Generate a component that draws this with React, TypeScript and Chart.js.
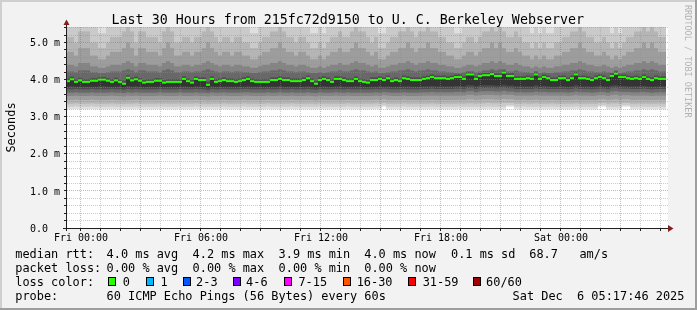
import React, { useEffect, useRef } from 'react';
import { Chart, registerables } from 'chart.js';

Chart.register(...registerables);

const W = 697;
const H = 310;

const titleText = 'Last 30 Hours from 215fc72d9150 to U. C. Berkeley Webserver';
const yAxisTitle = 'Seconds';
const watermark = 'RRDTOOL / TOBI OETIKER';

// time axis: 30 hours = 1800 minutes, 150 columns of 12 minutes, start Thu 23:17:46
const spanMinutes = 1800;
const stepMinutes = 12;
const firstMidnight = 42.23; // minutes from start to Fri 00:00
const xTickLabels = ['Fri 00:00', 'Fri 06:00', 'Fri 12:00', 'Fri 18:00', 'Sat 00:00'];
const yTickValues = [0, 1, 2, 3, 4, 5];
const yTickLabels = ['0.0', '1.0 m', '2.0 m', '3.0 m', '4.0 m', '5.0 m'];
const yMax = 5.42;

// median rtt (ms) per column
const medianRtt = [
  3.96, 4.01, 3.94, 3.98, 3.94, 3.94, 3.97, 3.97, 4.00, 4.00,
  3.97, 3.94, 3.98, 3.94, 3.89, 4.05, 3.98, 4.01, 3.97, 3.92,
  3.94, 3.94, 3.97, 3.97, 3.92, 3.94, 3.94, 3.94, 3.94, 4.02,
  3.96, 3.92, 4.02, 3.99, 3.99, 3.86, 4.02, 3.94, 3.96, 3.99,
  3.96, 3.96, 3.94, 3.96, 3.99, 4.02, 3.96, 3.94, 3.94, 3.94,
  3.94, 3.99, 3.99, 4.02, 3.99, 3.99, 3.96, 3.96, 3.96, 3.99,
  4.04, 3.96, 3.89, 3.99, 4.02, 3.99, 3.94, 4.02, 4.02, 3.99,
  3.96, 3.96, 4.02, 3.96, 3.94, 3.92, 3.99, 3.99, 4.02, 3.99,
  4.04, 3.96, 3.99, 3.96, 4.04, 4.02, 3.99, 3.99, 3.99, 4.02,
  4.04, 4.07, 4.04, 4.04, 4.04, 4.02, 4.04, 4.07, 4.07, 4.02,
  4.14, 4.14, 4.02, 4.10, 4.12, 4.12, 4.15, 4.10, 4.10, 4.19,
  4.10, 4.10, 4.02, 4.02, 4.02, 4.04, 4.02, 4.14, 4.02, 4.07,
  4.04, 3.99, 3.99, 4.04, 4.04, 3.99, 4.04, 4.14, 4.04, 4.04,
  4.02, 3.99, 4.04, 4.07, 4.04, 3.99, 4.10, 4.16, 4.07, 4.07,
  4.04, 4.02, 4.04, 4.02, 4.07, 4.02, 3.99, 4.04, 4.02, 4.02,
];

// smoke quantiles (ms) per column, lowest first
const pingMin = [
  3.20, 3.20, 3.21, 3.20, 3.20, 3.20, 3.21, 3.20, 3.20, 3.20,
  3.20, 3.21, 3.20, 3.20, 3.20, 3.20, 3.20, 3.21, 3.20, 3.20,
  3.20, 3.20, 3.20, 3.21, 3.20, 3.20, 3.20, 3.20, 3.21, 3.20,
  3.20, 3.20, 3.21, 3.20, 3.20, 3.20, 3.20, 3.20, 3.20, 3.21,
  3.20, 3.20, 3.20, 3.20, 3.21, 3.20, 3.20, 3.20, 3.20, 3.20,
  3.21, 3.20, 3.20, 3.20, 3.20, 3.20, 3.21, 3.20, 3.20, 3.20,
  3.20, 3.20, 3.20, 3.21, 3.20, 3.20, 3.20, 3.20, 3.20, 3.20,
  3.21, 3.20, 3.20, 3.20, 3.20, 3.20, 3.20, 3.21, 3.20, 3.27,
  3.20, 3.20, 3.20, 3.20, 3.21, 3.20, 3.20, 3.20, 3.20, 3.20,
  3.20, 3.21, 3.20, 3.20, 3.20, 3.20, 3.20, 3.20, 3.21, 3.20,
  3.20, 3.20, 3.20, 3.20, 3.20, 3.21, 3.20, 3.20, 3.20, 3.20,
  3.27, 3.27, 3.20, 3.20, 3.21, 3.20, 3.20, 3.20, 3.20, 3.20,
  3.20, 3.21, 3.20, 3.20, 3.20, 3.20, 3.20, 3.21, 3.20, 3.20,
  3.20, 3.20, 3.20, 3.27, 3.27, 3.20, 3.20, 3.20, 3.20, 3.27,
  3.27, 3.20, 3.20, 3.21, 3.20, 3.20, 3.20, 3.20, 3.21, 3.20,
];
const pingP03 = [
  3.27, 3.27, 3.28, 3.27, 3.27, 3.27, 3.28, 3.27, 3.27, 3.27,
  3.27, 3.28, 3.27, 3.27, 3.27, 3.27, 3.27, 3.28, 3.27, 3.27,
  3.27, 3.27, 3.27, 3.28, 3.27, 3.27, 3.27, 3.27, 3.28, 3.27,
  3.27, 3.27, 3.28, 3.27, 3.27, 3.27, 3.27, 3.27, 3.27, 3.28,
  3.27, 3.27, 3.27, 3.27, 3.28, 3.27, 3.27, 3.27, 3.27, 3.27,
  3.28, 3.27, 3.27, 3.27, 3.27, 3.27, 3.28, 3.27, 3.27, 3.27,
  3.27, 3.27, 3.27, 3.28, 3.27, 3.27, 3.27, 3.27, 3.27, 3.27,
  3.28, 3.27, 3.27, 3.27, 3.27, 3.27, 3.27, 3.28, 3.27, 3.31,
  3.27, 3.27, 3.27, 3.27, 3.28, 3.27, 3.27, 3.27, 3.27, 3.27,
  3.27, 3.28, 3.27, 3.27, 3.27, 3.27, 3.27, 3.27, 3.28, 3.27,
  3.27, 3.27, 3.27, 3.27, 3.27, 3.28, 3.27, 3.27, 3.27, 3.27,
  3.31, 3.31, 3.27, 3.27, 3.28, 3.27, 3.27, 3.27, 3.27, 3.27,
  3.27, 3.28, 3.27, 3.27, 3.27, 3.27, 3.27, 3.28, 3.27, 3.27,
  3.27, 3.27, 3.27, 3.31, 3.31, 3.27, 3.27, 3.27, 3.27, 3.31,
  3.31, 3.27, 3.27, 3.28, 3.27, 3.27, 3.27, 3.27, 3.28, 3.27,
];
const pingP08 = [
  3.35, 3.35, 3.36, 3.35, 3.35, 3.35, 3.36, 3.35, 3.35, 3.35,
  3.35, 3.36, 3.35, 3.35, 3.34, 3.35, 3.35, 3.36, 3.35, 3.35,
  3.35, 3.35, 3.35, 3.36, 3.35, 3.35, 3.35, 3.35, 3.36, 3.35,
  3.35, 3.35, 3.36, 3.35, 3.35, 3.34, 3.35, 3.35, 3.35, 3.36,
  3.35, 3.35, 3.35, 3.35, 3.36, 3.35, 3.35, 3.35, 3.35, 3.35,
  3.36, 3.35, 3.35, 3.35, 3.35, 3.35, 3.36, 3.35, 3.35, 3.35,
  3.35, 3.35, 3.34, 3.36, 3.35, 3.35, 3.35, 3.35, 3.35, 3.35,
  3.36, 3.35, 3.35, 3.35, 3.35, 3.35, 3.35, 3.36, 3.35, 3.37,
  3.35, 3.35, 3.35, 3.35, 3.36, 3.35, 3.35, 3.35, 3.35, 3.35,
  3.35, 3.36, 3.35, 3.35, 3.35, 3.35, 3.35, 3.35, 3.36, 3.35,
  3.36, 3.36, 3.35, 3.36, 3.36, 3.37, 3.36, 3.36, 3.36, 3.37,
  3.37, 3.37, 3.35, 3.35, 3.36, 3.35, 3.35, 3.36, 3.35, 3.35,
  3.35, 3.36, 3.35, 3.35, 3.35, 3.35, 3.35, 3.36, 3.35, 3.35,
  3.35, 3.35, 3.35, 3.37, 3.37, 3.35, 3.36, 3.36, 3.35, 3.37,
  3.37, 3.35, 3.35, 3.36, 3.35, 3.35, 3.35, 3.35, 3.36, 3.35,
];
const pingP15 = [
  3.45, 3.45, 3.46, 3.45, 3.45, 3.45, 3.46, 3.45, 3.45, 3.45,
  3.45, 3.46, 3.45, 3.45, 3.44, 3.45, 3.45, 3.46, 3.45, 3.45,
  3.45, 3.45, 3.45, 3.46, 3.45, 3.45, 3.45, 3.45, 3.46, 3.45,
  3.45, 3.45, 3.46, 3.45, 3.45, 3.44, 3.45, 3.45, 3.45, 3.46,
  3.45, 3.45, 3.45, 3.45, 3.46, 3.45, 3.45, 3.45, 3.45, 3.45,
  3.46, 3.45, 3.45, 3.45, 3.45, 3.45, 3.46, 3.45, 3.45, 3.45,
  3.45, 3.45, 3.44, 3.46, 3.45, 3.45, 3.45, 3.45, 3.45, 3.45,
  3.46, 3.45, 3.45, 3.45, 3.45, 3.45, 3.45, 3.46, 3.45, 3.47,
  3.45, 3.45, 3.45, 3.45, 3.46, 3.45, 3.45, 3.45, 3.45, 3.45,
  3.45, 3.46, 3.45, 3.45, 3.45, 3.45, 3.45, 3.45, 3.46, 3.45,
  3.47, 3.47, 3.45, 3.46, 3.47, 3.47, 3.47, 3.46, 3.46, 3.48,
  3.47, 3.47, 3.45, 3.45, 3.46, 3.45, 3.45, 3.46, 3.45, 3.45,
  3.45, 3.46, 3.45, 3.45, 3.45, 3.45, 3.45, 3.46, 3.45, 3.45,
  3.45, 3.45, 3.45, 3.47, 3.47, 3.45, 3.46, 3.47, 3.45, 3.47,
  3.47, 3.45, 3.45, 3.46, 3.45, 3.45, 3.45, 3.45, 3.46, 3.45,
];
const pingP25 = [
  3.56, 3.56, 3.57, 3.56, 3.56, 3.56, 3.57, 3.56, 3.56, 3.56,
  3.56, 3.57, 3.56, 3.56, 3.55, 3.57, 3.56, 3.57, 3.56, 3.56,
  3.56, 3.56, 3.56, 3.57, 3.56, 3.56, 3.56, 3.56, 3.57, 3.56,
  3.56, 3.56, 3.57, 3.56, 3.56, 3.55, 3.57, 3.56, 3.56, 3.57,
  3.56, 3.56, 3.56, 3.56, 3.57, 3.57, 3.56, 3.56, 3.56, 3.56,
  3.57, 3.56, 3.56, 3.57, 3.56, 3.56, 3.57, 3.56, 3.56, 3.56,
  3.57, 3.56, 3.55, 3.57, 3.56, 3.56, 3.56, 3.57, 3.56, 3.56,
  3.57, 3.56, 3.56, 3.56, 3.56, 3.56, 3.56, 3.57, 3.56, 3.58,
  3.57, 3.56, 3.56, 3.56, 3.57, 3.56, 3.56, 3.56, 3.56, 3.57,
  3.57, 3.57, 3.57, 3.57, 3.57, 3.57, 3.57, 3.57, 3.57, 3.57,
  3.59, 3.59, 3.57, 3.58, 3.59, 3.59, 3.59, 3.58, 3.58, 3.60,
  3.59, 3.59, 3.57, 3.57, 3.57, 3.57, 3.57, 3.58, 3.57, 3.57,
  3.57, 3.57, 3.57, 3.57, 3.57, 3.56, 3.57, 3.58, 3.57, 3.57,
  3.57, 3.56, 3.57, 3.58, 3.58, 3.56, 3.58, 3.59, 3.57, 3.58,
  3.58, 3.57, 3.57, 3.57, 3.57, 3.57, 3.56, 3.57, 3.57, 3.57,
];
const pingP33 = [
  3.65, 3.65, 3.66, 3.65, 3.65, 3.65, 3.66, 3.65, 3.65, 3.65,
  3.65, 3.66, 3.65, 3.65, 3.64, 3.66, 3.65, 3.66, 3.65, 3.65,
  3.65, 3.65, 3.65, 3.66, 3.65, 3.65, 3.65, 3.65, 3.66, 3.65,
  3.65, 3.65, 3.66, 3.65, 3.65, 3.64, 3.66, 3.65, 3.65, 3.66,
  3.65, 3.65, 3.65, 3.65, 3.66, 3.66, 3.65, 3.65, 3.65, 3.65,
  3.66, 3.65, 3.65, 3.66, 3.65, 3.65, 3.66, 3.65, 3.65, 3.65,
  3.66, 3.65, 3.64, 3.66, 3.65, 3.65, 3.65, 3.66, 3.65, 3.65,
  3.66, 3.65, 3.65, 3.65, 3.65, 3.65, 3.65, 3.66, 3.65, 3.67,
  3.66, 3.65, 3.65, 3.65, 3.66, 3.65, 3.65, 3.65, 3.65, 3.66,
  3.66, 3.67, 3.66, 3.66, 3.66, 3.66, 3.66, 3.67, 3.67, 3.66,
  3.69, 3.69, 3.66, 3.68, 3.69, 3.69, 3.69, 3.68, 3.68, 3.70,
  3.68, 3.68, 3.66, 3.66, 3.66, 3.66, 3.66, 3.68, 3.66, 3.67,
  3.66, 3.66, 3.66, 3.66, 3.66, 3.65, 3.66, 3.68, 3.66, 3.66,
  3.66, 3.65, 3.66, 3.67, 3.67, 3.65, 3.68, 3.69, 3.67, 3.67,
  3.67, 3.66, 3.66, 3.66, 3.67, 3.66, 3.65, 3.66, 3.66, 3.66,
];
const pingP40 = [
  3.74, 3.74, 3.75, 3.74, 3.74, 3.74, 3.75, 3.74, 3.74, 3.74,
  3.74, 3.75, 3.74, 3.74, 3.73, 3.75, 3.74, 3.75, 3.74, 3.74,
  3.74, 3.74, 3.74, 3.75, 3.74, 3.74, 3.74, 3.74, 3.75, 3.74,
  3.74, 3.74, 3.75, 3.74, 3.74, 3.72, 3.75, 3.74, 3.74, 3.75,
  3.74, 3.74, 3.74, 3.74, 3.75, 3.75, 3.74, 3.74, 3.74, 3.74,
  3.75, 3.74, 3.74, 3.75, 3.74, 3.74, 3.75, 3.74, 3.74, 3.74,
  3.75, 3.74, 3.73, 3.75, 3.74, 3.74, 3.74, 3.75, 3.74, 3.74,
  3.75, 3.74, 3.74, 3.74, 3.74, 3.74, 3.74, 3.75, 3.74, 3.76,
  3.75, 3.74, 3.74, 3.74, 3.75, 3.74, 3.74, 3.74, 3.74, 3.75,
  3.75, 3.76, 3.75, 3.75, 3.75, 3.75, 3.75, 3.76, 3.76, 3.75,
  3.78, 3.78, 3.75, 3.77, 3.78, 3.78, 3.78, 3.77, 3.77, 3.79,
  3.77, 3.77, 3.75, 3.75, 3.75, 3.75, 3.75, 3.77, 3.75, 3.76,
  3.75, 3.75, 3.75, 3.75, 3.75, 3.74, 3.75, 3.77, 3.75, 3.75,
  3.75, 3.74, 3.75, 3.76, 3.76, 3.74, 3.77, 3.78, 3.76, 3.76,
  3.76, 3.75, 3.75, 3.75, 3.76, 3.75, 3.74, 3.75, 3.75, 3.75,
];
const pingP45 = [
  3.81, 3.82, 3.81, 3.81, 3.81, 3.81, 3.81, 3.81, 3.82, 3.82,
  3.81, 3.81, 3.81, 3.81, 3.79, 3.83, 3.81, 3.82, 3.81, 3.80,
  3.81, 3.81, 3.81, 3.81, 3.80, 3.81, 3.81, 3.81, 3.81, 3.82,
  3.81, 3.80, 3.82, 3.81, 3.81, 3.78, 3.82, 3.81, 3.81, 3.81,
  3.81, 3.81, 3.81, 3.81, 3.81, 3.82, 3.81, 3.81, 3.81, 3.81,
  3.81, 3.81, 3.81, 3.82, 3.81, 3.81, 3.81, 3.81, 3.81, 3.81,
  3.82, 3.81, 3.79, 3.81, 3.82, 3.81, 3.81, 3.82, 3.82, 3.81,
  3.81, 3.81, 3.82, 3.81, 3.81, 3.80, 3.81, 3.81, 3.82, 3.81,
  3.82, 3.81, 3.81, 3.81, 3.82, 3.82, 3.81, 3.81, 3.81, 3.82,
  3.82, 3.83, 3.82, 3.82, 3.82, 3.82, 3.82, 3.83, 3.83, 3.82,
  3.85, 3.85, 3.82, 3.84, 3.85, 3.85, 3.85, 3.84, 3.84, 3.86,
  3.84, 3.84, 3.82, 3.82, 3.82, 3.82, 3.82, 3.85, 3.82, 3.83,
  3.82, 3.81, 3.81, 3.82, 3.82, 3.81, 3.82, 3.85, 3.82, 3.82,
  3.82, 3.81, 3.82, 3.83, 3.82, 3.81, 3.84, 3.85, 3.83, 3.83,
  3.82, 3.82, 3.82, 3.82, 3.83, 3.82, 3.81, 3.82, 3.82, 3.82,
];
const pingP60 = [
  4.03, 4.08, 4.01, 4.05, 4.01, 4.01, 4.04, 4.04, 4.07, 4.07,
  4.04, 4.01, 4.05, 4.01, 3.97, 4.12, 4.05, 4.08, 4.04, 3.99,
  4.01, 4.01, 4.04, 4.04, 3.99, 4.01, 4.01, 4.01, 4.01, 4.09,
  4.03, 3.99, 4.09, 4.06, 4.06, 3.95, 4.09, 4.01, 4.03, 4.06,
  4.03, 4.03, 4.01, 4.03, 4.06, 4.09, 4.03, 4.01, 4.01, 4.01,
  4.01, 4.06, 4.06, 4.09, 4.06, 4.06, 4.03, 4.03, 4.03, 4.06,
  4.11, 4.03, 3.97, 4.06, 4.09, 4.06, 4.01, 4.09, 4.09, 4.06,
  4.03, 4.03, 4.09, 4.03, 4.01, 3.99, 4.06, 4.06, 4.09, 4.06,
  4.11, 4.03, 4.06, 4.03, 4.11, 4.09, 4.06, 4.06, 4.06, 4.09,
  4.11, 4.14, 4.11, 4.11, 4.11, 4.09, 4.11, 4.14, 4.14, 4.09,
  4.20, 4.20, 4.09, 4.17, 4.18, 4.18, 4.21, 4.17, 4.17, 4.24,
  4.17, 4.17, 4.09, 4.09, 4.09, 4.11, 4.09, 4.20, 4.09, 4.14,
  4.11, 4.06, 4.06, 4.11, 4.11, 4.06, 4.11, 4.20, 4.11, 4.11,
  4.09, 4.06, 4.11, 4.14, 4.11, 4.06, 4.17, 4.22, 4.14, 4.14,
  4.11, 4.09, 4.11, 4.09, 4.14, 4.09, 4.06, 4.11, 4.09, 4.09,
];
const pingP67 = [
  4.22, 4.22, 4.20, 4.25, 4.25, 4.25, 4.20, 4.20, 4.18, 4.18,
  4.20, 4.22, 4.22, 4.22, 4.25, 4.28, 4.25, 4.20, 4.25, 4.25,
  4.22, 4.22, 4.22, 4.20, 4.25, 4.28, 4.25, 4.20, 4.20, 4.22,
  4.22, 4.20, 4.22, 4.22, 4.25, 4.28, 4.25, 4.22, 4.20, 4.22,
  4.22, 4.20, 4.22, 4.22, 4.20, 4.20, 4.18, 4.18, 4.20, 4.22,
  4.22, 4.25, 4.25, 4.28, 4.25, 4.22, 4.22, 4.20, 4.22, 4.22,
  4.20, 4.18, 4.18, 4.20, 4.18, 4.20, 4.22, 4.22, 4.25, 4.22,
  4.22, 4.25, 4.28, 4.25, 4.25, 4.22, 4.20, 4.22, 4.18, 4.18,
  4.20, 4.22, 4.22, 4.25, 4.25, 4.28, 4.25, 4.22, 4.25, 4.25,
  4.28, 4.25, 4.25, 4.22, 4.22, 4.20, 4.20, 4.18, 4.18, 4.20,
  4.23, 4.23, 4.20, 4.22, 4.25, 4.25, 4.28, 4.25, 4.28, 4.28,
  4.22, 4.22, 4.25, 4.22, 4.20, 4.20, 4.18, 4.23, 4.18, 4.20,
  4.18, 4.18, 4.20, 4.20, 4.22, 4.22, 4.25, 4.25, 4.28, 4.25,
  4.22, 4.22, 4.20, 4.20, 4.22, 4.20, 4.19, 4.25, 4.18, 4.20,
  4.22, 4.22, 4.25, 4.25, 4.28, 4.25, 4.28, 4.25, 4.22, 4.22,
];
const pingP75 = [
  4.40, 4.40, 4.36, 4.45, 4.45, 4.45, 4.36, 4.36, 4.32, 4.32,
  4.36, 4.40, 4.40, 4.40, 4.45, 4.50, 4.45, 4.36, 4.45, 4.45,
  4.40, 4.40, 4.40, 4.36, 4.45, 4.50, 4.45, 4.36, 4.36, 4.40,
  4.40, 4.36, 4.40, 4.40, 4.45, 4.50, 4.45, 4.40, 4.36, 4.40,
  4.40, 4.36, 4.40, 4.40, 4.36, 4.36, 4.32, 4.32, 4.36, 4.40,
  4.40, 4.45, 4.45, 4.50, 4.45, 4.40, 4.40, 4.36, 4.40, 4.40,
  4.36, 4.32, 4.32, 4.36, 4.32, 4.36, 4.40, 4.40, 4.45, 4.40,
  4.40, 4.45, 4.50, 4.45, 4.45, 4.40, 4.36, 4.40, 4.32, 4.32,
  4.36, 4.40, 4.40, 4.45, 4.45, 4.50, 4.45, 4.40, 4.45, 4.45,
  4.50, 4.45, 4.45, 4.40, 4.40, 4.36, 4.36, 4.32, 4.32, 4.36,
  4.40, 4.40, 4.36, 4.40, 4.45, 4.45, 4.50, 4.45, 4.50, 4.45,
  4.40, 4.40, 4.45, 4.40, 4.36, 4.36, 4.32, 4.36, 4.32, 4.36,
  4.32, 4.32, 4.36, 4.36, 4.40, 4.40, 4.45, 4.45, 4.50, 4.45,
  4.40, 4.40, 4.36, 4.36, 4.40, 4.36, 4.32, 4.36, 4.32, 4.36,
  4.40, 4.40, 4.45, 4.45, 4.50, 4.45, 4.50, 4.45, 4.40, 4.40,
];
const pingP85 = [
  4.75, 4.75, 4.65, 4.85, 4.85, 4.85, 4.65, 4.65, 4.55, 4.55,
  4.65, 4.75, 4.75, 4.75, 4.85, 5.00, 4.85, 4.65, 4.85, 4.85,
  4.75, 4.75, 4.75, 4.65, 4.85, 5.00, 4.85, 4.65, 4.65, 4.75,
  4.75, 4.65, 4.75, 4.75, 4.85, 5.00, 4.85, 4.75, 4.65, 4.75,
  4.75, 4.65, 4.75, 4.75, 4.65, 4.65, 4.55, 4.55, 4.65, 4.75,
  4.75, 4.85, 4.85, 5.00, 4.85, 4.75, 4.75, 4.65, 4.75, 4.75,
  4.65, 4.55, 4.55, 4.65, 4.55, 4.65, 4.75, 4.75, 4.85, 4.75,
  4.75, 4.85, 5.00, 4.85, 4.85, 4.75, 4.65, 4.75, 4.55, 4.55,
  4.65, 4.75, 4.75, 4.85, 4.85, 5.00, 4.85, 4.75, 4.85, 4.85,
  5.00, 4.85, 4.85, 4.75, 4.75, 4.65, 4.65, 4.55, 4.55, 4.65,
  4.75, 4.75, 4.65, 4.75, 4.85, 4.85, 5.00, 4.85, 5.00, 4.85,
  4.75, 4.75, 4.85, 4.75, 4.65, 4.65, 4.55, 4.65, 4.55, 4.65,
  4.55, 4.55, 4.65, 4.65, 4.75, 4.75, 4.85, 4.85, 5.00, 4.85,
  4.75, 4.75, 4.65, 4.65, 4.75, 4.65, 4.55, 4.65, 4.55, 4.65,
  4.75, 4.75, 4.85, 4.85, 5.00, 4.85, 5.00, 4.85, 4.75, 4.75,
];
const pingP92 = [
  5.15, 5.15, 5.00, 5.30, 5.30, 5.30, 5.00, 5.00, 4.85, 4.85,
  5.00, 5.15, 5.15, 5.15, 5.30, 5.50, 5.30, 5.00, 5.30, 5.30,
  5.15, 5.15, 5.15, 5.00, 5.30, 5.50, 5.30, 5.00, 5.00, 5.15,
  5.15, 5.00, 5.15, 5.15, 5.30, 5.50, 5.30, 5.15, 5.00, 5.15,
  5.15, 5.00, 5.15, 5.15, 5.00, 5.00, 4.85, 4.85, 5.00, 5.15,
  5.15, 5.30, 5.30, 5.50, 5.30, 5.15, 5.15, 5.00, 5.15, 5.15,
  5.00, 4.85, 4.85, 5.00, 4.85, 5.00, 5.15, 5.15, 5.30, 5.15,
  5.15, 5.30, 5.50, 5.30, 5.30, 5.15, 5.00, 5.15, 4.85, 4.85,
  5.00, 5.15, 5.15, 5.30, 5.30, 5.50, 5.30, 5.15, 5.30, 5.30,
  5.50, 5.30, 5.30, 5.15, 5.15, 5.00, 5.00, 4.85, 4.85, 5.00,
  5.15, 5.15, 5.00, 5.15, 5.30, 5.30, 5.50, 5.30, 5.50, 5.30,
  5.15, 5.15, 5.30, 5.15, 5.00, 5.00, 4.85, 5.00, 4.85, 5.00,
  4.85, 4.85, 5.00, 5.00, 5.15, 5.15, 5.30, 5.30, 5.50, 5.30,
  5.15, 5.15, 5.00, 5.00, 5.15, 5.00, 4.85, 5.00, 4.85, 5.00,
  5.15, 5.15, 5.30, 5.30, 5.50, 5.30, 5.50, 5.30, 5.15, 5.15,
];
const pingP97 = [
  5.60, 5.60, 5.45, 5.60, 5.60, 5.60, 5.45, 5.45, 5.25, 5.25,
  5.45, 5.60, 5.60, 5.60, 5.60, 5.60, 5.60, 5.45, 5.60, 5.60,
  5.60, 5.60, 5.60, 5.45, 5.60, 5.60, 5.60, 5.45, 5.45, 5.60,
  5.60, 5.45, 5.60, 5.60, 5.60, 5.60, 5.60, 5.60, 5.45, 5.60,
  5.60, 5.45, 5.60, 5.60, 5.45, 5.45, 5.25, 5.25, 5.45, 5.60,
  5.60, 5.60, 5.60, 5.60, 5.60, 5.60, 5.60, 5.45, 5.60, 5.60,
  5.45, 5.25, 5.25, 5.45, 5.25, 5.45, 5.60, 5.60, 5.60, 5.60,
  5.60, 5.60, 5.60, 5.60, 5.60, 5.60, 5.45, 5.60, 5.25, 5.25,
  5.45, 5.60, 5.60, 5.60, 5.60, 5.60, 5.60, 5.60, 5.60, 5.60,
  5.60, 5.60, 5.60, 5.60, 5.60, 5.45, 5.45, 5.25, 5.25, 5.45,
  5.60, 5.60, 5.45, 5.60, 5.60, 5.60, 5.60, 5.60, 5.60, 5.60,
  5.60, 5.60, 5.60, 5.60, 5.45, 5.45, 5.25, 5.45, 5.25, 5.45,
  5.25, 5.25, 5.45, 5.45, 5.60, 5.60, 5.60, 5.60, 5.60, 5.60,
  5.60, 5.60, 5.45, 5.45, 5.60, 5.45, 5.25, 5.45, 5.25, 5.45,
  5.60, 5.60, 5.60, 5.60, 5.60, 5.60, 5.60, 5.60, 5.60, 5.60,
];

// legend
const lossColors = ['#26ff00', '#00b8ff', '#0059ff', '#7e00ff', '#ff00ff', '#ff5500', '#ff0000', '#a10000'];
const lossLabels = ['0', '1', '2-3', '4-6', '7-15', '16-30', '31-59', '60/60'];
const statsLine1 = ['median rtt:', '4.0 ms avg', '4.2 ms max', '3.9 ms min', '4.0 ms now', '0.1 ms sd', '68.7   am/s'];
const statsLine2 = ['packet loss:', '0.00 % avg', '0.00 % max', '0.00 % min', '0.00 % now'];
const probeLine = ['probe:', '60 ICMP Echo Pings (56 Bytes) every 60s'];
const dateText = 'Sat Dec  6 05:17:46 2025';

// layout (pixels)
const line1X = [15.3, 106.6, 192.6, 278.6, 364.3, 451.0, 529.3];
const line2X = [15.3, 106.6, 192.6, 278.6, 364.3];
const boxX = [108, 146, 183, 233, 284, 343, 408, 473];
const boxLabelX = [122.7, 160.4, 196.1, 246.1, 298.4, 356.7, 422.7, 486.1];
const legendBaselines = [258, 272, 286, 300];
const dateX = 512.6;

const MONO = '"DejaVu Sans Mono", "Liberation Mono", monospace';

// outer (lightest) to inner (darkest)
const smokeColors = ['#dfdfdf', '#cacaca', '#b5b5b5', '#9d9d9d', '#848484', '#686868', '#4c4c4c', '#343434'];
const medianColor = '#26ff00';
const gridMinor = 'rgba(143,143,143,0.45)';
const gridMajor = 'rgba(222,79,79,0.5)';
const axisColor = '#1f1f1f';
const arrowColor = '#801f1f';

function drawGrid(chart: any) {
  const ctx: CanvasRenderingContext2D = chart.ctx;
  const xs = chart.scales.x;
  const ys = chart.scales.y;
  const { left, top, bottom } = chart.chartArea;
  const right = chart.chartArea.right + 2;
  ctx.save();
  ctx.lineWidth = 1;
  ctx.setLineDash([1, 1]);
  const hline = (v: number, color: string) => {
    const y = Math.floor(ys.getPixelForValue(v)) + 0.5;
    ctx.strokeStyle = color;
    ctx.beginPath();
    ctx.moveTo(left + 1, y);
    ctx.lineTo(right, y);
    ctx.stroke();
  };
  const vline = (t: number, color: string) => {
    const x = Math.floor(xs.getPixelForValue(t)) + 0.5;
    ctx.strokeStyle = color;
    ctx.beginPath();
    ctx.moveTo(x, top);
    ctx.lineTo(x, bottom);
    ctx.stroke();
  };
  for (let j = 1; j * 0.2 <= yMax; j++) {
    if (j % 5 !== 0) hline(j * 0.2, gridMinor);
  }
  for (let h = 0; firstMidnight + h * 60 < spanMinutes; h++) {
    if (h % 3 !== 0) vline(firstMidnight + h * 60, gridMinor);
  }
  for (let h = 0; firstMidnight + h * 60 < spanMinutes; h += 3) vline(firstMidnight + h * 60, gridMajor);
  for (const v of yTickValues) if (v > 0) hline(v, gridMajor);
  ctx.restore();
}

function drawFrameAndText(chart: any) {
  const ctx: CanvasRenderingContext2D = chart.ctx;
  const xs = chart.scales.x;
  const ys = chart.scales.y;
  const { left, top, bottom } = chart.chartArea;
  const right = chart.chartArea.right + 2;
  ctx.save();
  ctx.fillStyle = axisColor;
  ctx.fillRect(left, top - 3, 1, bottom - top + 6);
  ctx.fillRect(left - 3, bottom, right - left + 3, 1);
  for (let j = 1; j * 0.2 <= yMax; j++) {
    const y = Math.floor(ys.getPixelForValue(j * 0.2));
    ctx.fillRect(left - 2, y, 2, 1);
  }
  for (let h = 0; firstMidnight + h * 60 < spanMinutes; h++) {
    const x = Math.floor(xs.getPixelForValue(firstMidnight + h * 60));
    ctx.fillRect(x, bottom + 1, 1, 2);
  }
  ctx.fillStyle = arrowColor;
  ctx.beginPath();
  ctx.moveTo(right, bottom - 3);
  ctx.lineTo(right + 5.5, bottom + 0.5);
  ctx.lineTo(right, bottom + 4);
  ctx.closePath();
  ctx.fill();
  ctx.beginPath();
  ctx.moveTo(left - 2.5, top - 2);
  ctx.lineTo(left + 0.5, top - 7.5);
  ctx.lineTo(left + 3.5, top - 2);
  ctx.closePath();
  ctx.fill();

  ctx.fillStyle = '#000000';
  ctx.font = `10px ${MONO}`;
  ctx.textAlign = 'left';
  ctx.textBaseline = 'alphabetic';
  yTickValues.forEach((v, i) => {
    const y = ys.getPixelForValue(v);
    ctx.fillText(yTickLabels[i], 30, Math.round(y + 3.6));
  });
  ctx.textAlign = 'center';
  xTickLabels.forEach((lab, i) => {
    const x = Math.floor(xs.getPixelForValue(firstMidnight + i * 360)) + 0.5;
    ctx.fillText(lab, x + 0.5, 241);
  });
  ctx.font = `13.3px ${MONO}`;
  ctx.textAlign = 'left';
  ctx.fillText(titleText, 111.6, 24);
  ctx.font = `11.9px ${MONO}`;
  ctx.save();
  ctx.translate(15, 127.5);
  ctx.rotate(-Math.PI / 2);
  ctx.textAlign = 'center';
  ctx.fillText(yAxisTitle, 0, 0);
  ctx.restore();
  ctx.save();
  ctx.font = `8.5px ${MONO}`;
  ctx.fillStyle = 'rgba(0,0,0,0.28)';
  ctx.translate(685, 5);
  ctx.rotate(Math.PI / 2);
  ctx.textAlign = 'left';
  ctx.fillText(watermark, 0, 0);
  ctx.restore();
  ctx.font = `11.9px ${MONO}`;
  ctx.textAlign = 'left';
  statsLine1.forEach((s, i) => ctx.fillText(s, line1X[i], legendBaselines[0]));
  statsLine2.forEach((s, i) => ctx.fillText(s, line2X[i], legendBaselines[1]));
  ctx.fillText('loss color:', line1X[0], legendBaselines[2]);
  lossLabels.forEach((s, i) => {
    ctx.fillStyle = lossColors[i];
    ctx.fillRect(boxX[i], 277, 8, 9);
    ctx.strokeStyle = '#000000';
    ctx.lineWidth = 1;
    ctx.strokeRect(boxX[i] + 0.5, 277.5, 7, 8);
    ctx.fillStyle = '#000000';
    ctx.fillText(s, boxLabelX[i], legendBaselines[2]);
  });
  ctx.fillText(probeLine[0], line1X[0], legendBaselines[3]);
  ctx.fillText(probeLine[1], line1X[1], legendBaselines[3]);
  ctx.fillText(dateText, dateX, legendBaselines[3]);
  ctx.restore();
}

export default function App() {
  const ref = useRef<HTMLCanvasElement>(null);
  useEffect(() => {
    const canvas = ref.current;
    if (!canvas) return;
    const xAt = (i: number) => stepMinutes * (i + 0.5);
    const band = (lo: number[], hi: number[] | null) =>
      lo.map((v, i) => ({ x: xAt(i), y: [v, hi ? hi[i] : yMax] }));
    const layers: { lo: number[]; hi: number[] | null }[] = [
      { lo: pingMin, hi: null },
      { lo: pingP03, hi: pingP97 },
      { lo: pingP08, hi: pingP92 },
      { lo: pingP15, hi: pingP85 },
      { lo: pingP25, hi: pingP75 },
      { lo: pingP33, hi: pingP67 },
      { lo: pingP40, hi: pingP60 },
      { lo: pingP45, hi: medianRtt },
    ];
    const datasets: any[] = layers.map((l, i) => ({
      type: 'bar',
      data: band(l.lo, l.hi),
      backgroundColor: smokeColors[i],
      order: 20 - i,
    }));
    const medianIndex = datasets.length;
    datasets.push({
      type: 'bar',
      data: medianRtt.map((m, i) => ({ x: xAt(i), y: [m - 0.027, m + 0.027] })),
      backgroundColor: medianColor,
      order: 0,
    });

    const plugin = {
      id: 'rrdLook',
      beforeDraw(chart: any) {
        const ctx: CanvasRenderingContext2D = chart.ctx;
        ctx.save();
        ctx.fillStyle = '#f2f2f2';
        ctx.fillRect(0, 0, W, H);
        ctx.fillStyle = '#cfcfcf';
        ctx.fillRect(0, 0, W, 2);
        ctx.fillRect(0, 0, 2, H);
        ctx.fillStyle = '#9e9e9e';
        ctx.fillRect(0, H - 2, W, 2);
        ctx.fillRect(W - 2, 0, 2, H);
        const { left, top, right, bottom } = chart.chartArea;
        ctx.fillStyle = '#ffffff';
        ctx.fillRect(left, top, right + 2 - left, bottom - top);
        ctx.restore();
      },
      beforeDatasetDraw(chart: any, args: any) {
        if (args.index === medianIndex) drawGrid(chart);
      },
      afterDatasetsDraw(chart: any) {
        drawFrameAndText(chart);
      },
    };

    const chart = new Chart(canvas, {
      type: 'bar',
      data: { datasets },
      options: {
        animation: false,
        responsive: false,
        events: [],
        layout: { padding: { left: 66, right: 31, top: 27, bottom: 82 } },
        plugins: { legend: { display: false }, tooltip: { enabled: false }, title: { display: false } },
        datasets: {
          bar: { grouped: false, barPercentage: 1, categoryPercentage: 1, inflateAmount: 0, borderWidth: 0 },
        },
        scales: {
          x: { type: 'linear', min: 0, max: spanMinutes, display: false, offset: false },
          y: { type: 'linear', min: 0, max: yMax, display: false },
        },
      } as any,
      plugins: [plugin],
    });
    return () => chart.destroy();
  }, []);

  return (
    <div style={{ position: 'absolute', left: 0, top: 0, width: W, height: H }}>
      <canvas ref={ref} width={W} height={H} style={{ display: 'block', width: W, height: H }} />
    </div>
  );
}
